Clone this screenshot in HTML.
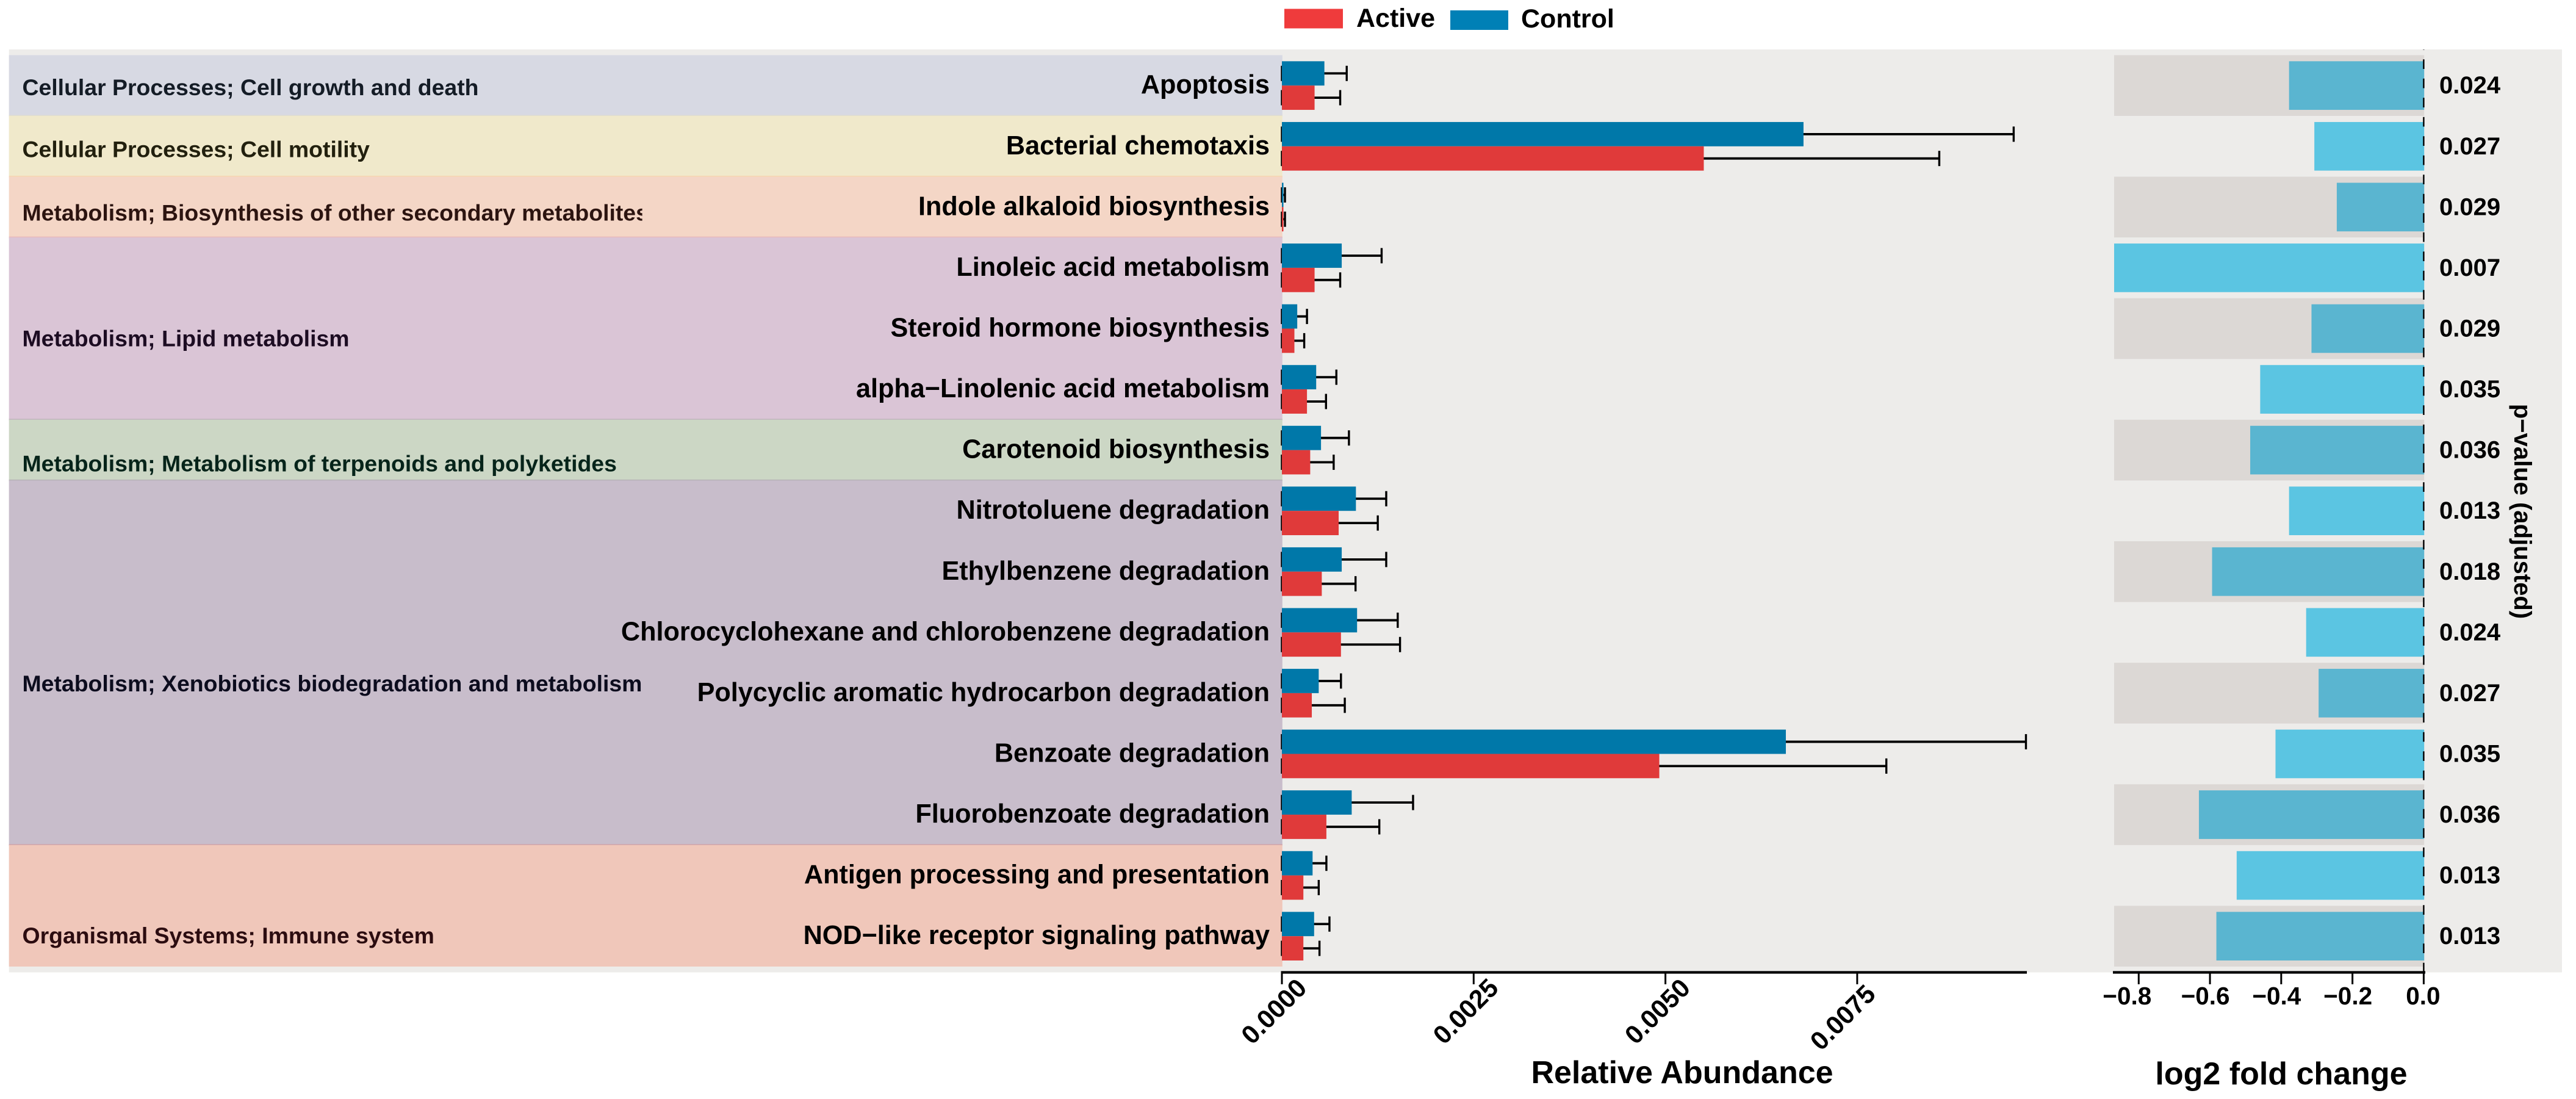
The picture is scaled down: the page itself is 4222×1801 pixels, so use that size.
<!DOCTYPE html>
<html lang="en">
<head>
<meta charset="utf-8">
<title>Differential pathways: relative abundance and log2 fold change</title>
<style>
html,body{margin:0;padding:0;background:#fff;}
svg{display:block;font-family:"Liberation Sans",Arial,sans-serif;font-weight:bold;}
</style>
</head>
<body>
<svg id="chart" xmlns="http://www.w3.org/2000/svg" width="4222" height="1801" viewBox="0 0 4222 1801">
  <defs><clipPath id="band-label-clip"><rect x="14" y="81" width="1038.6" height="1513"></rect></clipPath></defs>
  <rect x="0" y="0" width="4222" height="1801" fill="#ffffff"></rect>
  <rect x="14.7" y="81" width="4184.3" height="1512.5" fill="#edecea"></rect>
  <g id="bands"></g>
  <g id="band-labels" clip-path="url(#band-label-clip)"></g>
  <g id="row-labels"></g>
  <g id="abundance-marks"></g>
  <g id="fold-marks"></g>
  <g id="abundance-axis"></g>
  <g id="fold-axis"></g>
  <g id="pvalues"></g>

  <g>
    <rect x="2105" y="14.5" width="96" height="32" fill="#ef3b3c"></rect>
    <text x="2223" y="44" font-size="43" fill="#000">Active</text>
    <rect x="2377" y="17" width="95" height="32" fill="#0080b6"></rect>
    <text x="2493" y="45" font-size="43" fill="#000">Control</text>
  </g>
  <text x="2757" y="1775" font-size="52" text-anchor="middle" fill="#000">Relative Abundance</text>
  <text x="3739" y="1777" font-size="52" text-anchor="middle" fill="#000">log2 fold change</text>
  <text transform="translate(4121 838) rotate(90)" font-size="40" text-anchor="middle" fill="#000">p−value (adjusted)</text>
</svg>

<script>
// ---- Data (top = first entry) ----
const pathways = ["Apoptosis","Bacterial chemotaxis","Indole alkaloid biosynthesis","Linoleic acid metabolism","Steroid hormone biosynthesis","alpha−Linolenic acid metabolism","Carotenoid biosynthesis","Nitrotoluene degradation","Ethylbenzene degradation","Chlorocyclohexane and chlorobenzene degradation","Polycyclic aromatic hydrocarbon degradation","Benzoate degradation","Fluorobenzoate degradation","Antigen processing and presentation","NOD−like receptor signaling pathway"];
const controlMean = [0.000554,0.00680,0.00002,0.00078,0.00020,0.000447,0.00051,0.000965,0.00078,0.00098,0.00048,0.00657,0.00091,0.00040,0.00042];
const controlUpper = [0.000845,0.00954,0.00004,0.00130,0.000327,0.00071,0.000874,0.00136,0.00136,0.00151,0.00077,0.00970,0.00171,0.00058,0.00062];
const activeMean = [0.000426,0.00550,0.00002,0.000426,0.000163,0.000327,0.000369,0.00074,0.00052,0.00077,0.00039,0.00492,0.00058,0.00028,0.00028];
const activeUpper = [0.00076,0.00857,0.00004,0.00076,0.000291,0.000575,0.000675,0.00125,0.00096,0.00154,0.00082,0.00788,0.00127,0.00048,0.00049];
const log2FoldChange = [-0.378,-0.307,-0.244,-0.869,-0.315,-0.459,-0.487,-0.378,-0.594,-0.330,-0.295,-0.416,-0.631,-0.525,-0.582];
const pValues = ["0.024","0.027","0.029","0.007","0.029","0.035","0.036","0.013","0.018","0.024","0.027","0.035","0.036","0.013","0.013"];
const categoryNames = ["Cellular Processes; Cell growth and death","Cellular Processes; Cell motility","Metabolism; Biosynthesis of other secondary metabolites","Metabolism; Lipid metabolism","Metabolism; Metabolism of terpenoids and polyketides","Metabolism; Xenobiotics biodegradation and metabolism","Organismal Systems; Immune system"];
const categoryRowCounts = [1,1,1,3,1,6,2];
const categoryLabelRow = [0.04,1.06,2.10,4.17,6.23,9.85,14.0];
const abundanceTicks = [0,0.0025,0.005,0.0075];
const abundanceTickLabels = ["0.0000","0.0025","0.0050","0.0075"];
const foldTicks = [-0.8,-0.6,-0.4,-0.2,0];
const foldTickLabels = ["−0.8","−0.6","−0.4","−0.2","0.0"];

// ---- Palette ----
const bandColors = ["#d7d9e3","#f0e9cb","#f4d6c6","#dac5d6","#ccd7c5","#c8bdcb","#f0c7ba"];
const bandSeamColors = ["#e0ddd0","#f6d6b0","#e8b9bc","#bfb5bc","#b5b3b5","#cfa5aa"];
const bandTextColors = ["#141c26","#22200e","#2c1410","#1c0c22","#06241a","#0c0c1e","#2c0c10"];

// ---- Axis functions ----
const SVGNS = "http://www.w3.org/2000/svg";
const rowPitch = 99.57;
const yRow = function (r) { return 140.2 + rowPitch * r; };
const xAbund = function (v) { return 2101 + v * 125720; };
const xFold = function (v) { return 3972.4 + v * 583.9; };
const axisY = 1593.5;

function mk(parentId, tag, attrs, text) {
  const el = document.createElementNS(SVGNS, tag);
  Object.keys(attrs).forEach(function (k) { el.setAttribute(k, attrs[k]); });
  if (text !== undefined) el.textContent = text;
  document.getElementById(parentId).appendChild(el);
  return el;
}

// ---- Category bands ----
let startRow = 0;
categoryNames.forEach(function (name, i) {
  const top = yRow(startRow - 0.5);
  const bottom = yRow(startRow + categoryRowCounts[i] - 0.5);
  const band = mk("bands", "rect", { x: 14.7, y: top, width: xAbund(0) + 0.8 - 14.7, height: bottom - top, fill: bandColors[i] });
  
  
  if (i < bandSeamColors.length) {
    const seam = mk("bands", "rect", { x: 14.7, y: bottom - 1.5, width: xAbund(0) + 0.8 - 14.7, height: 3, fill: bandSeamColors[i] });
    
    
  }
  const label = mk("band-labels", "text", { x: 36.5, y: yRow(categoryLabelRow[i]) + 12, "font-size": 37.4, fill: bandTextColors[i] }, name);
  
  
  startRow += categoryRowCounts[i];
});

// ---- Row labels ----
pathways.forEach(function (name, i) {
  const t = mk("row-labels", "text", { x: 2081, y: yRow(i) + 13, "font-size": 43.2, "text-anchor": "end", fill: "#000" }, name);
  
  
});

// ---- Abundance bars with error bars ----
const barHalf = 39.83;
function drawGroup(row, mean, upper, yTop, color, groupName) {
  const yc = yTop + barHalf / 2;
  const stem = mk("abundance-marks", "line", { x1: xAbund(0), x2: xAbund(upper), y1: yc, y2: yc, stroke: "#000", "stroke-width": 3.8 });
  
  
  const capHi = mk("abundance-marks", "line", { x1: xAbund(upper), x2: xAbund(upper), y1: yc - 12.5, y2: yc + 12.5, stroke: "#000", "stroke-width": 3.4 });
  
  
  const capLo = mk("abundance-marks", "line", { x1: xAbund(0), x2: xAbund(0), y1: yc - 12.5, y2: yc + 12.5, stroke: "#000", "stroke-width": 3.4 });
  
  
  const bar = mk("abundance-marks", "rect", { x: xAbund(0), y: yTop, width: xAbund(mean) - xAbund(0), height: barHalf, fill: color });
  
  
}
pathways.forEach(function (name, i) {
  drawGroup(i, controlMean[i], controlUpper[i], yRow(i) - barHalf, "#0078a9", "control");
  drawGroup(i, activeMean[i], activeUpper[i], yRow(i), "#e03a3a", "active");
});

// ---- Fold change: alternating strips, bars, zero line ----
pathways.forEach(function (name, i) {
  if (i % 2 === 0) {
    const strip = mk("fold-marks", "rect", { x: 3465, y: yRow(i - 0.5), width: xFold(0) + 0.8 - 3465, height: rowPitch, fill: "#dcd8d5" });
    
    
  }
});
log2FoldChange.forEach(function (v, i) {
  const bar = mk("fold-marks", "rect", { x: xFold(v), y: yRow(i) - barHalf, width: xFold(0) - xFold(v) + 0.8, height: 2 * barHalf, fill: i % 2 === 0 ? "#5ab5d0" : "#5bc5e2" });
  
  
});
const zeroLine = mk("fold-marks", "line", { x1: xFold(0), x2: xFold(0), y1: axisY, y2: 81, stroke: "#000", "stroke-width": 2.4, "stroke-dasharray": "15.75 15.75" });



// ---- p-values ----
pValues.forEach(function (p, i) {
  const t = mk("pvalues", "text", { x: 3998, y: yRow(i) + 13, "font-size": 40, fill: "#000" }, p);
  
  
});

// ---- Abundance axis ----
const abundanceLine = mk("abundance-axis", "line", { x1: 2099.5, x2: 3322, y1: axisY, y2: axisY, stroke: "#000", "stroke-width": 4.2 });


abundanceTicks.forEach(function (v, i) {
  const tick = mk("abundance-axis", "line", { x1: xAbund(v), x2: xAbund(v), y1: axisY, y2: 1613, stroke: "#000", "stroke-width": 3 });
  
  
  const last = v === 0.0075;
  const cx = xAbund(v) + (last ? -24 : -13.5);
  const cy = last ? 1667 : 1657;
  const label = mk("abundance-axis", "text", { transform: "translate(" + cx + " " + cy + ") rotate(-45)", y: 15, "font-size": 42.5, "text-anchor": "middle", fill: "#000" }, abundanceTickLabels[i]);
  
  
});

// ---- Fold-change axis ----
const foldLine = mk("fold-axis", "line", { x1: 3463, x2: 3975, y1: axisY, y2: axisY, stroke: "#000", "stroke-width": 4.2 });


foldTicks.forEach(function (v, i) {
  const tick = mk("fold-axis", "line", { x1: xFold(v), x2: xFold(v), y1: axisY, y2: 1613, stroke: "#000", "stroke-width": 3 });
  
  
  const nudge = v === 0 ? -1 : (v === -0.8 ? -19 : -7.5);
  const label = mk("fold-axis", "text", { x: xFold(v) + nudge, y: 1646, "font-size": 40.5, "text-anchor": "middle", fill: "#000" }, foldTickLabels[i]);
  
  
});
</script>
</body>
</html>
